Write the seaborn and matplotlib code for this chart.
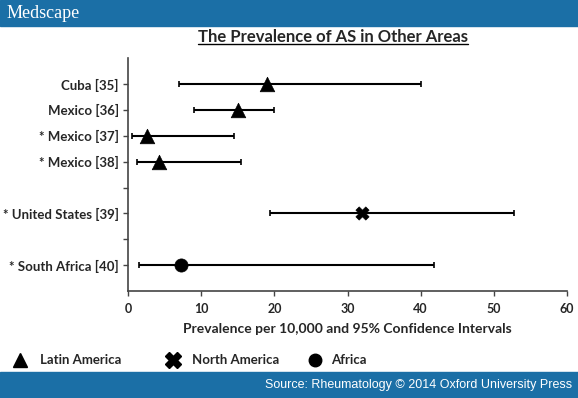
import matplotlib
matplotlib.use("Agg")
import matplotlib.pyplot as plt
import pandas as pd
import seaborn as sns
from matplotlib.patches import Rectangle

# data
studies = ["Cuba [35]", "Mexico [36]", "* Mexico [37]", "* Mexico [38]",
           "* United States [39]", "* South Africa [40]"]
regions = ["Latin America", "Latin America", "Latin America", "Latin America",
           "North America", "Africa"]
prevalence = [19.0, 15.0, 2.6, 4.3, 32.0, 7.3]
ci_low = [7.0, 9.0, 0.5, 1.2, 19.4, 1.5]
ci_high = [40.0, 20.0, 14.5, 15.5, 52.8, 41.8]
row_pos = [8, 7, 6, 5, 3, 1]
x_ticks = [0, 10, 20, 30, 40, 50, 60]

df = pd.DataFrame({"study": studies, "region": regions, "prev": prevalence,
                   "lo": ci_low, "hi": ci_high, "y": row_pos})

sns.set_style("white")
plt.rcParams["font.family"] = ["Lato", "DejaVu Sans"]

BLUE = "#1b6fa6"
fig = plt.figure(figsize=(5.78, 3.98), dpi=100)
ax = fig.add_axes([0.2215, 0.2688, 0.7595, 0.5852])

ax.errorbar(df["prev"], df["y"],
            xerr=[df["prev"] - df["lo"], df["hi"] - df["prev"]],
            fmt="none", ecolor="black", elinewidth=1.5, capsize=2.5, capthick=1.2)
markers = {"Latin America": "^", "North America": "X", "Africa": "o"}
sizes = {"Latin America": 110, "North America": 90, "Africa": 90}
for reg, m in markers.items():
    sub = df[df["region"] == reg]
    sns.scatterplot(data=sub, x="prev", y="y", marker=m, s=sizes[reg],
                    color="black", edgecolor="black", linewidth=0.5, ax=ax,
                    zorder=3, legend=False)

ax.set_xlim(0, 60)
ax.set_ylim(0, 9)
ax.set_xticks(x_ticks)
ax.set_xticklabels([str(t) for t in x_ticks], fontweight="bold", fontsize=9)
yt = list(range(1, 9))
lab_map = dict(zip(row_pos, studies))
ax.set_yticks(yt)
ax.set_yticklabels([lab_map.get(v, "") for v in yt], fontweight="bold", fontsize=9.5)
ax.tick_params(axis="both", direction="out", length=3.5, width=1, color="#444444",
               left=True, bottom=True, pad=3)
ax.tick_params(axis="x", pad=5)
ax.set_xlabel("Prevalence per 10,000 and 95% Confidence Intervals",
              fontweight="bold", fontsize=10, labelpad=6)
ax.set_ylabel("")
for s in ["top", "right"]:
    ax.spines[s].set_visible(False)
for s in ["left", "bottom"]:
    ax.spines[s].set_color("#444444")
    ax.spines[s].set_linewidth(1.2)

# title
t = fig.text(333 / 578, 1 - 37 / 398, "The Prevalence of AS in Other Areas", ha="center",
             va="center", fontsize=12, fontweight="bold")
fig.canvas.draw()
bb = t.get_window_extent().transformed(fig.transFigure.inverted())
fig.add_artist(plt.Line2D([bb.x0, bb.x1], [bb.y0 + 0.003, bb.y0 + 0.003],
                          transform=fig.transFigure, color="black", lw=1))

# legend row
leg_y = 1 - 360 / 398
fig.add_artist(plt.Line2D([20 / 578], [leg_y], marker="^", ms=10, color="black",
                          transform=fig.transFigure))
fig.text(40 / 578, leg_y, "Latin America", va="center", fontsize=9.5, fontweight="bold")
fig.add_artist(plt.Line2D([173 / 578], [leg_y], marker="X", ms=11, color="black",
                          transform=fig.transFigure))
fig.text(192 / 578, leg_y, "North America", va="center", fontsize=9.5, fontweight="bold")
fig.add_artist(plt.Line2D([315 / 578], [leg_y], marker="o", ms=9, color="black",
                          transform=fig.transFigure))
fig.text(331 / 578, leg_y, "Africa", va="center", fontsize=9.5, fontweight="bold")

# banners
fig.add_artist(Rectangle((0, 1 - 26 / 398), 1, 26 / 398, transform=fig.transFigure,
                         color=BLUE, zorder=0))
fig.add_artist(Rectangle((0, 0), 1, 26 / 398, transform=fig.transFigure,
                         color=BLUE, zorder=0))
fig.text(7 / 578, 1 - 13 / 398, "Medscape", color="white", va="center",
         fontsize=13, family=["Liberation Serif"])
fig.text(572 / 578, 13 / 398, "Source: Rheumatology © 2014 Oxford University Press",
         color="white", ha="right", va="center", fontsize=9,
         family=["Liberation Sans"])

fig.savefig("out.png", dpi=100)
